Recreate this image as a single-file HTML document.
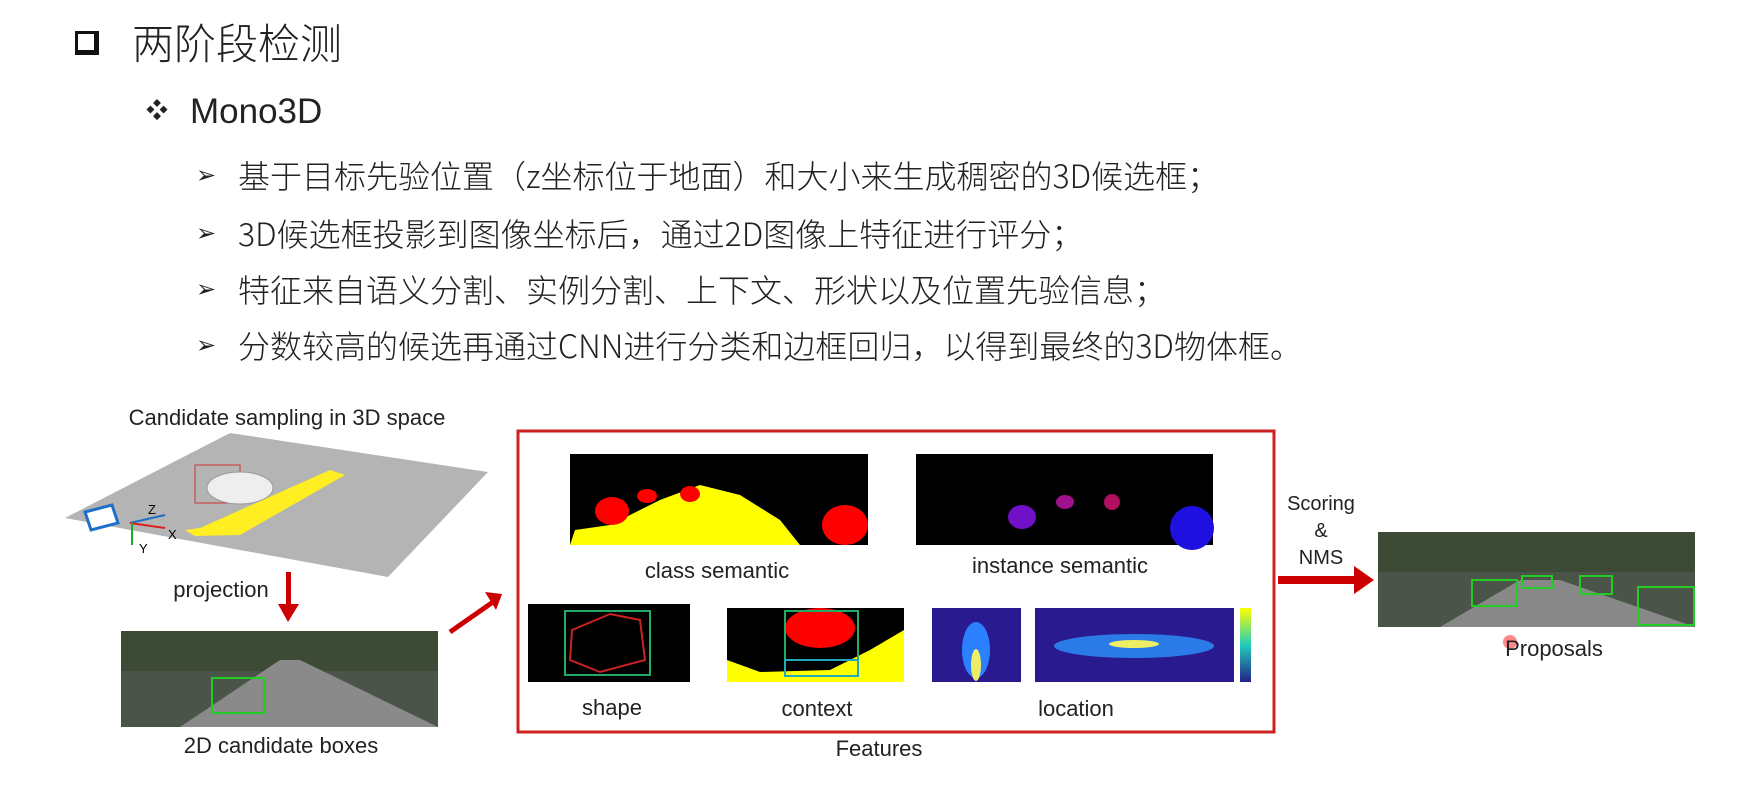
<!DOCTYPE html>
<html><head><meta charset="utf-8"><style>
body{margin:0;width:1763px;height:797px;background:#fff;position:relative;overflow:hidden;font-family:"Liberation Sans","Noto Sans CJK SC",sans-serif;color:#222}
.t{position:absolute;white-space:nowrap;line-height:1}
.cjk{font-family:"Noto Sans CJK SC","Liberation Sans",sans-serif;font-weight:300}
.lbl{position:absolute;white-space:nowrap;font-size:22px;color:#222;transform:translateX(-50%);line-height:1}
.box{position:absolute}
</style></head><body>
<div class="box" style="left:75px;top:31px;width:24px;height:24px;border:3px solid #111;border-right-width:5px;border-bottom-width:5px;box-sizing:border-box"></div>
<div class="t cjk" style="left:132px;top:21px;font-size:42px">两阶段检测</div>
<div class="t" style="left:146px;top:100px;font-size:22px">❖</div>
<div class="t" style="left:190px;top:94px;font-size:35px">Mono3D</div>
<div class="t" style="left:196px;top:164px;font-size:24px">➢</div>
<div class="t cjk" style="left:238px;top:159px;font-size:32px">基于目标先验位置（z坐标位于地面）和大小来生成稠密的3D候选框；</div>
<div class="t" style="left:196px;top:222px;font-size:24px">➢</div>
<div class="t cjk" style="left:238px;top:217px;font-size:32px">3D候选框投影到图像坐标后，通过2D图像上特征进行评分；</div>
<div class="t" style="left:196px;top:278px;font-size:24px">➢</div>
<div class="t cjk" style="left:238px;top:273px;font-size:32px">特征来自语义分割、实例分割、上下文、形状以及位置先验信息；</div>
<div class="t" style="left:196px;top:334px;font-size:24px">➢</div>
<div class="t cjk" style="left:238px;top:329px;font-size:32px">分数较高的候选再通过CNN进行分类和边框回归，以得到最终的3D物体框。</div>

<div class="lbl" style="left:287px;top:407px">Candidate sampling in 3D space</div>
<svg width="1763" height="797" style="position:absolute;left:0;top:0">
<polygon points="230,433 488,472 388,577 65,518" fill="#b4b4b4"/>
<polygon points="185,530 200,528 330,470 345,475 240,535 195,536" fill="#ffee22"/>
<rect x="195" y="465" width="45" height="38" fill="none" stroke="#c33" stroke-width="1"/>
<ellipse cx="240" cy="488" rx="33" ry="16" fill="#eee" stroke="#999"/>
<polygon points="85,512 112,505 118,523 91,530" fill="#fff" stroke="#1e6fc8" stroke-width="3"/>
<line x1="130" y1="523" x2="165" y2="515" stroke="#1e6fc8" stroke-width="2"/>
<line x1="130" y1="523" x2="165" y2="528" stroke="#d22" stroke-width="2"/>
<line x1="132" y1="523" x2="132" y2="545" stroke="#2a2" stroke-width="2"/>
<text x="148" y="514" font-size="13" font-family="Liberation Sans">Z</text>
<text x="168" y="539" font-size="13" font-family="Liberation Sans">X</text>
<text x="139" y="553" font-size="13" font-family="Liberation Sans">Y</text>
<rect x="286" y="572" width="5" height="34" fill="#c00"/><polygon points="278,604 299,604 288,622" fill="#c00"/>
<line x1="450" y1="632" x2="493" y2="602" stroke="#c00" stroke-width="5"/><polygon points="485,592 502,594 496,610" fill="#c00"/>
<rect x="121" y="631" width="317" height="96" fill="#4a5448"/>
<rect x="121" y="631" width="317" height="40" fill="#3d4a35"/>
<polygon points="180,727 280,660 300,660 438,727" fill="#8a8a8a"/>
<rect x="212" y="678" width="52" height="35" fill="none" stroke="#2c2" stroke-width="2"/>
<rect x="518" y="431" width="756" height="301" fill="none" stroke="#c22" stroke-width="3"/>
<rect x="570" y="454" width="298" height="91" fill="#000"/>
<path d="M570,545 L575,530 L610,525 L660,500 L700,485 L740,495 L780,520 L800,545 Z" fill="#ff0"/>
<ellipse cx="612" cy="511" rx="17" ry="14" fill="#f00"/><ellipse cx="647" cy="496" rx="10" ry="7" fill="#f00"/><ellipse cx="690" cy="494" rx="10" ry="8" fill="#f00"/><ellipse cx="845" cy="525" rx="23" ry="20" fill="#f00"/>
<rect x="916" y="454" width="297" height="91" fill="#000"/>
<ellipse cx="1022" cy="517" rx="14" ry="12" fill="#7010c8"/><ellipse cx="1065" cy="502" rx="9" ry="7" fill="#a0108a"/><ellipse cx="1112" cy="502" rx="8" ry="8" fill="#b01060"/><ellipse cx="1192" cy="528" rx="22" ry="22" fill="#2010e0"/>
<rect x="528" y="604" width="162" height="78" fill="#000"/>
<rect x="565" y="611" width="85" height="64" fill="none" stroke="#2a6" stroke-width="2"/>
<path d="M572,630 L610,614 L640,620 L645,660 L600,672 L570,660 Z" fill="none" stroke="#c22" stroke-width="2"/>
<rect x="727" y="608" width="177" height="74" fill="#ff0"/>
<path d="M727,608 H904 V630 L870,650 L830,670 L760,672 L727,660 Z" fill="#000"/>
<ellipse cx="820" cy="628" rx="35" ry="20" fill="#f00"/>
<rect x="785" y="611" width="73" height="49" fill="none" stroke="#2a6" stroke-width="2"/>
<rect x="785" y="660" width="73" height="16" fill="none" stroke="#2ab" stroke-width="2"/>
<rect x="932" y="608" width="89" height="74" fill="#2a1a90"/>
<ellipse cx="976" cy="650" rx="14" ry="28" fill="#2a80ff"/><ellipse cx="976" cy="665" rx="5" ry="16" fill="#ee6"/>
<rect x="1035" y="608" width="199" height="74" fill="#2a1a90"/>
<ellipse cx="1134" cy="646" rx="80" ry="12" fill="#2a7ae8"/><ellipse cx="1134" cy="644" rx="25" ry="4" fill="#ee6"/>
<defs><linearGradient id="cb" x1="0" y1="0" x2="0" y2="1"><stop offset="0" stop-color="#ff0"/><stop offset=".5" stop-color="#2cb"/><stop offset="1" stop-color="#228"/></linearGradient></defs>
<rect x="1240" y="608" width="11" height="74" fill="url(#cb)"/>
<rect x="1278" y="576" width="80" height="8" fill="#c00"/><polygon points="1354,566 1374,580 1354,594" fill="#c00"/>
<rect x="1378" y="532" width="317" height="95" fill="#4a5448"/>
<rect x="1378" y="532" width="317" height="40" fill="#3d4a35"/>
<polygon points="1440,627 1520,580 1560,580 1695,627" fill="#888"/>
<rect x="1472" y="580" width="45" height="26" fill="none" stroke="#2c2" stroke-width="2"/>
<rect x="1522" y="576" width="30" height="12" fill="none" stroke="#2c2" stroke-width="2"/>
<rect x="1580" y="576" width="32" height="18" fill="none" stroke="#2c2" stroke-width="2"/>
<rect x="1638" y="587" width="56" height="38" fill="none" stroke="#2c2" stroke-width="2"/>
<circle cx="1510" cy="642" r="7" fill="#f55" opacity=".7"/>
</svg>
<div class="lbl" style="left:221px;top:579px">projection</div>
<div class="lbl" style="left:281px;top:735px">2D candidate boxes</div>
<div class="lbl" style="left:717px;top:560px">class semantic</div>
<div class="lbl" style="left:1060px;top:555px">instance semantic</div>
<div class="lbl" style="left:612px;top:697px">shape</div>
<div class="lbl" style="left:817px;top:698px">context</div>
<div class="lbl" style="left:1076px;top:698px">location</div>
<div class="lbl" style="left:879px;top:738px">Features</div>
<div class="lbl" style="left:1321px;top:494px;font-size:20px">Scoring</div>
<div class="lbl" style="left:1321px;top:521px;font-size:20px">&amp;</div>
<div class="lbl" style="left:1321px;top:548px;font-size:20px">NMS</div>
<div class="lbl" style="left:1554px;top:638px">Proposals</div>
</body></html>
